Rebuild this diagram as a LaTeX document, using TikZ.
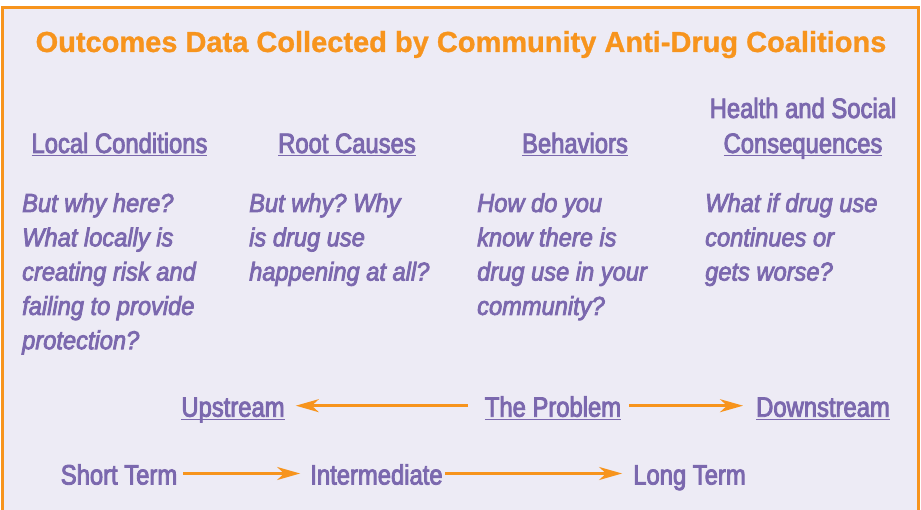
\documentclass[tikz,border=0pt]{standalone}
\usepackage{fontspec}
\usetikzlibrary{arrows.meta}
\setmainfont{Liberation Sans}
\newfontfamily\condfont{Liberation Sans}[FakeStretch=0.85, FakeBold=3]
\newfontfamily\titlefont{Liberation Sans}[FakeBold=1]
\newfontfamily\askfont{Liberation Sans}[FakeStretch=0.91, FakeBold=3]
\definecolor{frameorange}{HTML}{F7941D}
\definecolor{panelfill}{HTML}{EDEBF5}
\definecolor{textpurple}{HTML}{7B68AE}
\frenchspacing
% underline that runs through the descenders
\newlength{\ulwd}
\newcommand{\ulined}[1]{\settowidth{\ulwd}{#1}\rlap{\rule[-3.5pt]{\ulwd}{1.5pt}}#1}

\begin{document}
\begin{tikzpicture}[x=1pt, y=-1pt,
  title/.style={font=\titlefont\bfseries\fontsize{29}{34}\selectfont, text=frameorange,
                inner sep=0pt, anchor=base},
  head/.style={font=\condfont\fontsize{28}{35}\selectfont, text=textpurple,
               inner sep=0pt, anchor=base, align=center},
  % multi-line nodes: base is the last line
  ask/.style={font=\askfont\itshape\fontsize{26}{34.3}\selectfont, text=textpurple,
              inner sep=0pt, anchor=base west, align=left},
  term/.style={font=\condfont\fontsize{28}{34}\selectfont, text=textpurple,
               inner sep=0pt, text height=26pt, text depth=4pt},
  flow/.style={draw=frameorange, line width=2.5pt,
               -{Stealth[length=23pt, width=13pt, inset=7pt]}},
]
\useasboundingbox (0,0) rectangle (921,510);
\fill[white] (0,0) rectangle (921,510);
\fill[panelfill] (2.5,7.5) rectangle (918,510);
\draw[frameorange, line width=3pt] (2.5,510) -- (2.5,7.5) -- (918,7.5) -- (918,510);

\node[title] (title) at (461,52) {Outcomes Data Collected by Community Anti-Drug Coalitions};

% column headings
\node[head] (local) at (119.5,153) {\ulined{Local Conditions}};
\node[head] (root) at (347,153) {\ulined{Root Causes}};
\node[head] (behav) at (575,153) {\ulined{Behaviors}};
\node[head] (conseq) at (803,153) {Health and Social\\\ulined{Consequences}};

% the question under each heading
\node[ask] (q1) at (22,349.2) {But why here?\\What locally is\\creating risk and\\failing to provide\\protection?};
\node[ask] (q2) at (249,280.6) {But why? Why\\is drug use\\happening at all?};
\node[ask] (q3) at (477,314.9) {How do you\\know there is\\drug use in your\\community?};
\node[ask] (q4) at (705,280.6) {What if drug use\\continues or\\gets worse?};

% upstream / downstream
\node[term] (up) at (233,405.7) {\ulined{Upstream}};
\node[term] (problem) at (553,405.7) {\ulined{The Problem}};
\node[term] (down) at (823,405.7) {\ulined{Downstream}};
\draw[flow, shorten <=17pt, shorten >=11pt] (problem) -- (up);
\draw[flow, shorten <=8pt, shorten >=13pt] (problem) -- (down);

% time frame
\node[term] (short) at (119,473.5) {Short Term};
\node[term] (inter) at (376.5,473.5) {Intermediate};
\node[term] (long) at (689.5,473.5) {Long Term};
\draw[flow, shorten <=6pt, shorten >=10pt] (short) -- (inter);
\draw[flow, shorten <=2pt, shorten >=11pt] (inter) -- (long);
\end{tikzpicture}
\end{document}
